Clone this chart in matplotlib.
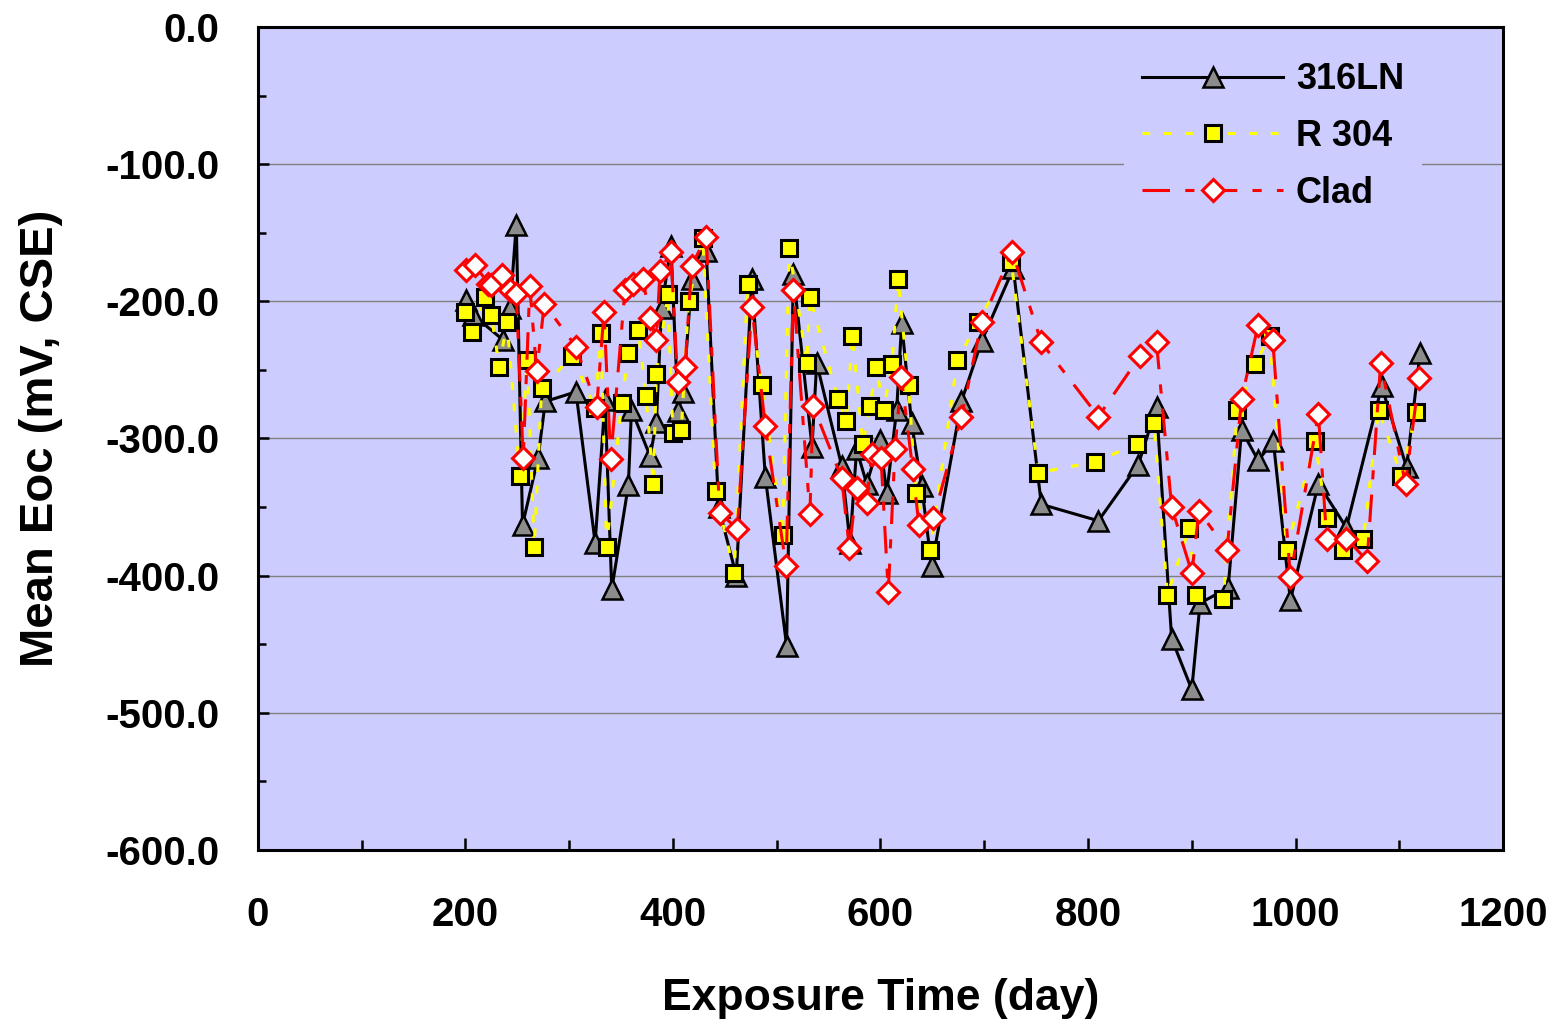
import matplotlib
matplotlib.use("Agg")
import matplotlib.pyplot as plt
from matplotlib.ticker import MultipleLocator, FormatStrFormatter

plt.rcParams['font.family'] = ['Liberation Sans', 'DejaVu Sans']
plt.rcParams['font.weight'] = 'bold'
plt.rcParams['axes.unicode_minus'] = False

# 316LN
days_316 = [201, 207.5, 236, 243, 249, 255, 270, 277, 306.5, 325, 334.5, 341, 357, 360,
            378, 384, 389, 398, 405, 410, 418, 432, 444, 461, 476, 489, 509.5, 516, 534,
            538.5, 562.6, 570.6, 577, 586.7, 599.5, 606, 615.6, 620.4, 630, 639.7, 649.3,
            678, 697.5, 728, 755, 810, 848.5, 866, 880.6, 900, 908, 935, 948, 964, 978.6,
            995, 1022, 1049, 1083, 1107, 1120]
eoc_316 = [-199, -210, -228, -205, -144, -363, -314, -273, -266, -376, -272, -410, -334, -279,
           -313, -288, -205, -160, -280, -266, -184, -163, -350, -400, -184, -328, -451, -180, -306,
           -245, -320, -376, -308, -333, -301, -340, -279, -216, -289, -335, -393,
           -273, -229, -176, -348, -360, -319, -277, -446, -483, -420, -409, -294, -316, -302,
           -418, -333, -365, -262, -321, -238]

# R 304
days_304 = [199.5, 206, 219, 225, 232.6, 240, 252.5, 259.6, 266.3, 273.4, 303, 325, 330.6, 336,
            350.5, 357, 366.6, 374, 381, 384, 395, 400, 408, 415, 428.6, 441, 459, 472, 485.5,
            505.7, 512, 529, 532, 559, 567, 573, 583, 590, 596, 603, 611, 617, 627, 634, 648,
            674, 694, 726, 752, 807, 847, 863.6, 876.5, 897.6, 903.8, 930.4, 944, 961, 975,
            991.5, 1018.8, 1030, 1046, 1065.4, 1080, 1102, 1116]
eoc_304 = [-208, -222, -197, -210, -248, -215, -327, -243, -379, -263, -240, -278, -223, -379,
           -274, -238, -221, -269, -333, -253, -195, -296, -294, -200, -154, -338, -398, -187, -261,
           -370, -161, -245, -197, -271, -287, -225, -304, -276, -248, -279, -246, -184, -261, -340, -381,
           -243, -215, -171, -325, -317, -304, -289, -414, -365, -414, -417, -279, -246, -225,
           -381, -302, -358, -381, -373, -279, -327, -281]

# Clad
days_clad = [201, 209, 222, 225, 235, 243, 249, 255.7, 262, 268.6, 276, 306.5, 326.5, 333.5,
             340, 353.7, 361.8, 371, 378, 384, 387.5, 398, 404.5, 411.6, 418, 432, 445, 462,
             476, 489, 509, 516, 532, 535, 562.6, 570, 577, 586.7, 591.5, 600.5, 607.5, 614,
             620, 631, 637, 651, 678, 697.5, 727, 755, 810, 850, 866, 880.6, 900, 907, 934,
             948, 964, 978, 995, 1022, 1030, 1049, 1069, 1082, 1106, 1119]
eoc_clad = [-177, -173.5, -187, -188, -181, -192, -195, -314, -189, -251, -202, -233, -277, -208,
            -315, -192, -187, -184, -212, -228, -178, -164, -259, -248, -174, -153, -354, -366,
            -204, -291, -393, -192, -355, -276, -329, -380, -336, -347, -311, -314, -412, -308,
            -255, -322, -363, -358, -284, -215, -164, -230, -284, -240, -230, -350, -398, -353, -381,
            -271, -217, -228, -401, -282, -373, -373, -389, -245, -333, -256]

fig = plt.figure(figsize=(15.67, 10.28), dpi=100)
ax = fig.add_axes([0.1646, 0.1732, 0.7946, 0.8005])
ax.set_facecolor('#CCCCFF')

ax.plot(days_316, eoc_316, color='black', lw=2.2, marker='^', ms=15,
        mfc='#8c8c8c', mec='black', mew=1.8, label='316LN', zorder=3)
ax.plot(days_304, eoc_304, color='#FFFF00', lw=2.2, ls=(0, (2.5, 4.5)), marker='s', ms=12,
        mfc='#FFFF00', mec='black', mew=2.2, label='R 304', zorder=4)
ax.plot(days_clad, eoc_clad, color='#FF0000', lw=2.2, ls=(0, (9, 5, 3, 5)), marker='D', ms=11,
        mfc='white', mec='#FF0000', mew=2.2, label='Clad', zorder=5)

ax.set_xlim(0, 1200)
ax.set_ylim(-600, 0)
ax.xaxis.set_major_locator(MultipleLocator(200))
ax.xaxis.set_minor_locator(MultipleLocator(100))
ax.yaxis.set_major_locator(MultipleLocator(100))
ax.yaxis.set_minor_locator(MultipleLocator(50))
ax.yaxis.set_major_formatter(FormatStrFormatter('%.1f'))
ax.grid(axis='y', which='major', color='#808080', lw=1.0, zorder=1)
ax.set_axisbelow(True)

for s in ax.spines.values():
    s.set_linewidth(2.2)
ax.tick_params(axis='x', which='major', direction='in', length=9, width=1.8, pad=33, labelsize=29)
ax.tick_params(axis='x', which='minor', direction='in', length=7, width=1.8)
ax.tick_params(axis='y', which='major', direction='in', length=8, width=1.8, pad=28, labelsize=29)
ax.tick_params(axis='y', which='minor', direction='in', length=6, width=1.8)

ax.set_xlabel('Exposure Time (day)', fontsize=32, fontweight='bold', labelpad=32)
ax.set_ylabel('Mean Eoc (mV, CSE)', fontsize=34, fontweight='bold', labelpad=30)

leg = ax.legend(loc='upper right', bbox_to_anchor=(0.935, 0.979), borderaxespad=0,
                fontsize=26, handlelength=3.9, handletextpad=0.35, labelspacing=0.6,
                borderpad=0.5, numpoints=1, frameon=True, fancybox=False)
leg.get_frame().set_facecolor('#CCCCFF')
leg.get_frame().set_edgecolor('none')
leg.get_frame().set_alpha(1)

fig.savefig('out.png', dpi=100)
